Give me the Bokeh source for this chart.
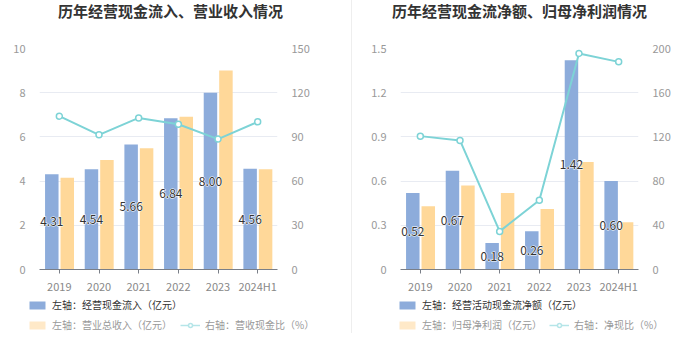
from bokeh.plotting import figure
from bokeh.models import (ColumnDataSource, FactorRange, Range1d, LinearAxis, FixedTicker,
                          Legend, LegendItem, Label, Div)
from bokeh.transform import dodge
from bokeh.layouts import row, column
from bokeh.core.properties import value
from bokeh.embed import file_html
from bokeh.resources import INLINE

years = ["2019", "2020", "2021", "2022", "2023", "2024H1"]
# left chart
inflow = [4.31, 4.54, 5.66, 6.84, 8.00, 4.56]
revenue = [4.15, 4.96, 5.49, 6.91, 9.00, 4.54]
ratio1 = [104.1, 91.4, 102.9, 98.6, 88.5, 100.2]
# right chart
net_cf = [0.52, 0.67, 0.18, 0.26, 1.42, 0.60]
profit = [0.43, 0.57, 0.52, 0.41, 0.73, 0.32]
ratio2 = [120.7, 116.8, 34.5, 62.6, 195.5, 187.9]

left_ticks1 = [0, 2, 4, 6, 8, 10]
right_ticks1 = [0, 30, 60, 90, 120, 150]
left_ticks2 = [0, 0.3, 0.6, 0.9, 1.2, 1.5]
right_ticks2 = [0, 40, 80, 120, 160, 200]

FONT = "Noto Sans CJK SC"
BLUE = "#8DACDB"
YELLOW = "#FFD899"
CYAN = "#7DD3D6"
GRID = "#E8EBF2"
LBL = "#999999"
NAN = float("nan")


def blank_fig(w, h):
    f = figure(width=w, height=h, x_range=Range1d(0, 1), y_range=Range1d(0, 1),
               x_axis_type=None, y_axis_type=None, min_border=0,
               outline_line_color=None, toolbar_location=None, output_backend="svg",
               background_fill_color="white", border_fill_color="white")
    return f


def make_chart(title, title_x, a, b, r, lt, rt, names, bl, br, leg_x, leg2_gap):
    W = bl + 238 + br
    # ---- title
    head = blank_fig(W, 40)
    head.add_layout(Label(x=title_x, y=30, x_units="screen", y_units="screen", text=title,
                          text_align="center", text_baseline="middle",
                          text_font=FONT, text_font_size="15px", text_font_style="bold",
                          text_color="#333333"))

    # ---- main chart
    src = ColumnDataSource(dict(x=years, a=a, b=b, r=r,
                                half=[v / 2 for v in a],
                                lab=["%.2f" % v for v in a]))
    p = figure(x_range=FactorRange(*years, range_padding=0),
               y_range=Range1d(lt[0], lt[-1]),
               frame_width=238, frame_height=221,
               min_border_left=bl, min_border_right=br, min_border_top=8,
               min_border_bottom=22,
               output_backend="svg", toolbar_location=None,
               background_fill_color="white", border_fill_color="white",
               outline_line_color=None)
    p.extra_y_ranges = {"r": Range1d(rt[0], rt[-1])}

    p.vbar(x=dodge("x", -0.19, range=p.x_range), top="a", width=0.34, source=src,
           fill_color=BLUE, line_color=None)
    p.vbar(x=dodge("x", 0.2, range=p.x_range), top="b", width=0.34, source=src,
           fill_color=YELLOW, line_color=None)
    p.line(x="x", y="r", source=src, y_range_name="r", line_color=CYAN, line_width=2)
    p.scatter(x="x", y="r", source=src, y_range_name="r", size=6, marker="circle",
              fill_color="white", line_color=CYAN, line_width=1.5)
    lab_kw = dict(x=dodge("x", -0.19, range=p.x_range), y="half", text="lab", source=src,
                  text_align="center", text_baseline="middle", text_font=value(FONT),
                  text_font_size="12px")
    p.text(text_color="white", text_outline_color="white", **lab_kw)
    p.text(text_color="#333333", **lab_kw)

    p.yaxis.ticker = FixedTicker(ticks=lt)
    ra = LinearAxis(y_range_name="r", ticker=FixedTicker(ticks=rt))
    p.add_layout(ra, "right")
    for ax in (p.yaxis[0], ra):
        ax.axis_line_color = None
        ax.major_tick_line_color = None
        ax.minor_tick_line_color = None
        ax.major_label_text_color = LBL
        ax.major_label_text_font = FONT
        ax.major_label_text_font_size = "11px"
        ax.major_label_standoff = 8
    p.yaxis[0].major_label_overrides = {0: "0"}
    xa = p.xaxis[0]
    xa.axis_line_color = "#7A7F88"
    xa.major_tick_line_color = "#7A7F88"
    xa.major_tick_out = 4
    xa.major_tick_in = 0
    xa.major_label_text_color = "#888888"
    xa.major_label_text_font = FONT
    xa.major_label_text_font_size = "11px"
    xa.major_label_standoff = 4
    p.xgrid.grid_line_color = None
    p.ygrid.ticker = FixedTicker(ticks=lt)
    p.ygrid.grid_line_color = GRID

    # ---- legend strip (legend-only proxy renderers, no visible data)
    leg = blank_fig(W, 52)
    proxy = ColumnDataSource(dict(x=[NAN], y=[NAN]))
    g1 = leg.vbar(x="x", top="y", width=0.3, source=proxy, fill_color=BLUE, line_color=None)
    g2 = leg.vbar(x="x", top="y", width=0.3, source=proxy, fill_color="#FFE9C8",
                  line_color=None)
    g3 = leg.line(x="x", y="y", source=proxy, line_color="#B5E5E8", line_width=1.5)
    g4 = leg.scatter(x="x", y="y", source=proxy, marker="circle", size=10,
                     fill_color="white", line_color="#B5E5E8", line_width=1.5)
    common = dict(border_line_color=None, background_fill_alpha=0, padding=0, margin=0,
                  glyph_width=20, glyph_height=10, label_text_font=FONT,
                  label_text_font_size="10px", label_standoff=5, label_height=10,
                  label_text_baseline="middle")
    l1 = Legend(items=[LegendItem(label=names[0], renderers=[g1])],
                location=(leg_x, 36), label_text_color="#333333", **common)
    l2 = Legend(items=[LegendItem(label=names[1], renderers=[g2]),
                       LegendItem(label=names[2], renderers=[g3, g4])],
                location=(leg_x, 16), orientation="horizontal", spacing=leg2_gap,
                label_text_color=LBL, **common)
    leg.add_layout(l1, "center")
    leg.add_layout(l2, "center")
    return column(row(head), row(p), row(leg), spacing=0)


c1 = make_chart("历年经营现金流入、营业收入情况", 170, inflow, revenue, ratio1,
                left_ticks1, right_ticks1,
                ["左轴：经营现金流入（亿元）", "左轴：营业总收入（亿元）", "右轴：营收现金比（%）"],
                39, 74, 27, 8)
sep = Div(width=1, height=333, margin=0, styles={"background-color": "#EEEEEE"})
c2 = make_chart("历年经营现金流净额、归母净利润情况", 167, net_cf, profit, ratio2,
                left_ticks2, right_ticks2,
                ["左轴：经营活动现金流净额（亿元）", "左轴：归母净利润（亿元）", "右轴：净现比（%）"],
                48, 53, 45, 7)

layout = row(c1, sep, c2, spacing=0)
open("out.html", "w").write(file_html(layout, INLINE))
